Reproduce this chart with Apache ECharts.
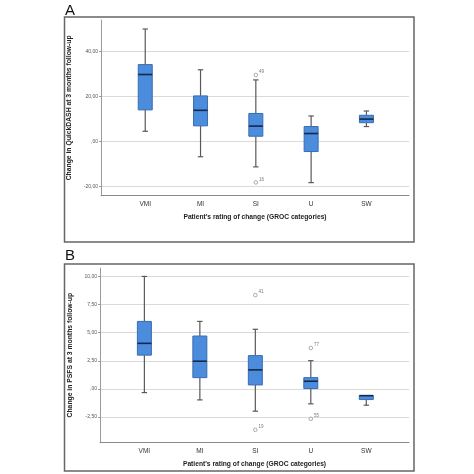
<!DOCTYPE html>
<html>
<head>
<meta charset="utf-8">
<script src="https://cdn.jsdelivr.net/npm/echarts@6/dist/echarts.min.js"></script>
<style>
html, body { margin: 0; padding: 0; background: #fff; }
#chart { width: 474px; height: 474px; }
</style>
</head>
<body>
<div id="chart"></div>
<script>
// GROC categories and their positions on the x axis
var categories = ['VMI', 'MI', 'SI', 'U', 'SW'];
var catPos = [1, 2, 3, 4, 5];

// A - QuickDASH change (min, Q1, median, Q3, max)
var quickMin = [4.6, -6.7, -11.2, -18.2, 6.7];
var quickQ1  = [14.1, 7.0, 2.4, -4.4, 8.4];
var quickMed = [29.8, 13.9, 6.9, 3.6, 10.0];
var quickQ3  = [34.2, 20.3, 12.5, 6.7, 11.7];
var quickMax = [50.0, 31.9, 27.4, 11.4, 13.6];
var quickOutX  = [3, 3];
var quickOutY  = [29.6, -18.1];
var quickOutId = ['49', '16'];
var quickTicks = [-20, 0, 20, 40];
var quickTickLabels = ['-20,00', ',00', '20,00', '40,00'];

// B - PSFS change
var psfsMin = [-0.33, -0.98, -1.98, -1.33, -1.45];
var psfsQ1  = [3.0, 1.0, 0.35, 0.03, -0.95];
var psfsMed = [4.05, 2.46, 1.69, 0.68, -0.6];
var psfsQ3  = [6.0, 4.7, 2.96, 1.0, -0.6];
var psfsMax = [10.0, 6.0, 5.3, 2.51, -0.6];
var psfsOutX  = [3, 3, 4, 4];
var psfsOutY  = [8.34, -3.64, 3.64, -2.66];
var psfsOutId = ['41', '19', '77', '55'];
var psfsTicks = [-2.5, 0, 2.5, 5, 7.5, 10];
var psfsTickLabels = ['-2,50', ',00', '2,50', '5,00', '7,50', '10,00'];

var FONT = 'Liberation Sans';

function boxRows(mn, q1, md, q3, mx) {
  var rows = [];
  for (var i = 0; i < catPos.length; i++) {
    rows.push([catPos[i], mn[i], q1[i], md[i], q3[i], mx[i]]);
  }
  return rows;
}
function outRows(xs, ys, ids) {
  var rows = [];
  for (var i = 0; i < xs.length; i++) rows.push([xs[i], ys[i], ids[i]]);
  return rows;
}
function tickLabel(ticks, labels) {
  return function (v) {
    for (var i = 0; i < ticks.length; i++) {
      if (Math.abs(ticks[i] - v) < 1e-6) return labels[i];
    }
    return '';
  };
}

function renderBox(params, api) {
  var x = api.value(0);
  var lo = api.coord([x, api.value(1)]);
  var q1 = api.coord([x, api.value(2)]);
  var md = api.coord([x, api.value(3)]);
  var q3 = api.coord([x, api.value(4)]);
  var hi = api.coord([x, api.value(5)]);
  var half = 7;
  var cap = 2.7;
  function wl(x1, y1, x2, y2) {
    return { type: 'line', shape: { x1: x1, y1: y1, x2: x2, y2: y2 },
      style: { stroke: '#595959', lineWidth: 1.2 } };
  }
  return {
    type: 'group',
    children: [
      wl(hi[0], hi[1], q3[0], q3[1]),
      wl(lo[0], lo[1], q1[0], q1[1]),
      wl(hi[0] - cap, hi[1], hi[0] + cap, hi[1]),
      wl(lo[0] - cap, lo[1], lo[0] + cap, lo[1]),
      { type: 'rect',
        shape: { x: q3[0] - half, y: q3[1], width: half * 2, height: q1[1] - q3[1] },
        style: { fill: '#4b8ddc', stroke: '#3a6cb0', lineWidth: 1 } },
      { type: 'line',
        shape: { x1: md[0] - half, y1: md[1], x2: md[0] + half, y2: md[1] },
        style: { stroke: '#15284a', lineWidth: 1.6 } }
    ]
  };
}

function xAxisFor(idx) {
  return {
    type: 'value', gridIndex: idx, min: 0.2, max: 5.77,
    axisLine: { show: true, onZero: false, lineStyle: { color: '#8a8a8a', width: 1 } },
    axisTick: { show: false },
    splitLine: { show: false },
    axisLabel: {
      customValues: catPos,
      formatter: function (v) { return categories[Math.round(v) - 1]; },
      fontSize: 6.5, color: '#333', margin: 5, fontFamily: FONT
    },
    name: "Patient's rating of change (GROC categories)",
    nameLocation: 'middle', nameGap: 18,
    nameTextStyle: { fontSize: 6.7, fontWeight: 'bold', color: '#222', fontFamily: FONT }
  };
}
function yAxisFor(idx, min, max, ticks, labels, name) {
  return {
    type: 'value', gridIndex: idx, min: min, max: max,
    axisLine: { show: true, onZero: false, lineStyle: { color: '#9a9a9a', width: 1 } },
    axisTick: { show: true, customValues: ticks, length: 2, lineStyle: { color: '#9a9a9a' } },
    axisLabel: {
      customValues: ticks, formatter: tickLabel(ticks, labels),
      fontSize: 5, color: '#555', margin: 3, fontFamily: FONT
    },
    splitLine: { show: true, lineStyle: { color: '#dadada', width: 1 } },
    name: name, nameLocation: 'middle', nameGap: 25, nameRotate: 90,
    nameTextStyle: { fontSize: 6.8, fontWeight: 'bold', color: '#222', fontFamily: FONT }
  };
}
function outlierSeries(idx, rows) {
  return {
    type: 'scatter', xAxisIndex: idx, yAxisIndex: idx, data: rows,
    symbol: 'circle', symbolSize: 3.6,
    itemStyle: { color: '#ffffff', borderColor: '#6e6e6e', borderWidth: 0.7 },
    label: {
      show: true, position: 'right', distance: 1, offset: [0, -3],
      formatter: function (p) { return p.value[2]; },
      fontSize: 4.5, color: '#555', fontFamily: FONT
    }
  };
}

var chart = echarts.init(document.getElementById('chart'));
chart.setOption({
  animation: false,
  backgroundColor: '#fff',
  grid: [
    { left: 101, right: 65, top: 20, bottom: 278.3 },
    { left: 100, right: 65, top: 268, bottom: 31.7 }
  ],
  xAxis: [xAxisFor(0), xAxisFor(1)],
  yAxis: [
    yAxisFor(0, -24, 54, quickTicks, quickTickLabels, 'Change in QuickDASH at 3 months follow-up'),
    yAxisFor(1, -4.75, 10.75, psfsTicks, psfsTickLabels, 'Change in PSFS at 3 months follow-up')
  ],
  series: [
    { type: 'custom', xAxisIndex: 0, yAxisIndex: 0, renderItem: renderBox,
      encode: { x: 0, y: [1, 2, 3, 4, 5] },
      data: boxRows(quickMin, quickQ1, quickMed, quickQ3, quickMax) },
    outlierSeries(0, outRows(quickOutX, quickOutY, quickOutId)),
    { type: 'custom', xAxisIndex: 1, yAxisIndex: 1, renderItem: renderBox,
      encode: { x: 0, y: [1, 2, 3, 4, 5] },
      data: boxRows(psfsMin, psfsQ1, psfsMed, psfsQ3, psfsMax) },
    outlierSeries(1, outRows(psfsOutX, psfsOutY, psfsOutId))
  ],
  graphic: [
    { type: 'rect', shape: { x: 64.5, y: 17, width: 349.5, height: 225 },
      style: { fill: 'transparent', stroke: '#666', lineWidth: 1.5 } },
    { type: 'rect', shape: { x: 64.5, y: 264, width: 349.5, height: 207 },
      style: { fill: 'transparent', stroke: '#666', lineWidth: 1.5 } },
    { type: 'text', style: { x: 65, y: 18, text: 'A', fontSize: 15, fontFamily: FONT,
      fill: '#111', verticalAlign: 'bottom' } },
    { type: 'text', style: { x: 65, y: 263, text: 'B', fontSize: 15, fontFamily: FONT,
      fill: '#111', verticalAlign: 'bottom' } }
  ]
});
</script>
</body>
</html>
